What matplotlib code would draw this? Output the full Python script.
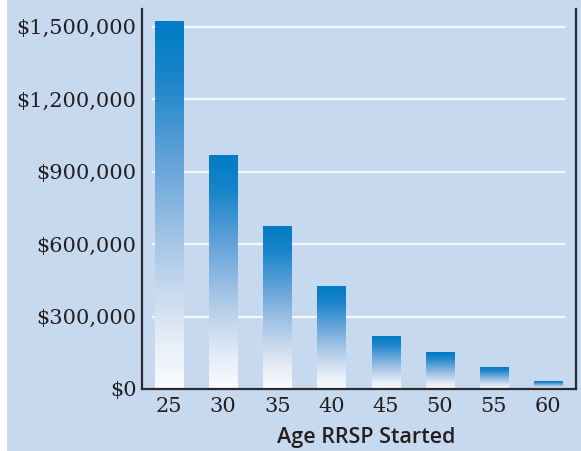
import numpy as np
import matplotlib
matplotlib.use('Agg')
import matplotlib.pyplot as plt
from matplotlib.colors import LinearSegmentedColormap
from matplotlib.patches import Rectangle

ages = [25, 30, 35, 40, 45, 50, 55, 60]
savings = [1520000, 965000, 671000, 426000, 219000, 153000, 87000, 33000]
y_ticks = [0, 300000, 600000, 900000, 1200000, 1500000]

bg = '#c6d9ef'
ink = '#231f20'
bar_cmap = LinearSegmentedColormap.from_list('rrsp', [
    (0.0, '#fbfcfe'), (0.15, '#e2ebf6'), (0.35, '#b3cde9'),
    (0.6, '#6aa6da'), (0.85, '#1984ca'), (1.0, '#007cc4')])

fig = plt.figure(figsize=(5.81, 4.51), dpi=100)
fig.patch.set_facecolor('white')
fig.patches.append(Rectangle((7 / 581, 0), 1, 1, transform=fig.transFigure,
                             facecolor=bg, edgecolor='none', zorder=-10))
ax = fig.add_axes([0.2444, 0.1375, 0.747, 0.8425])
ax.set_facecolor(bg)

xmin, xmax = 22.51, 62.59
ymax = 1573000
width = 2.59

# white grid lines, not quite full width
ax.hlines(y_ticks[1:], 23.43, 61.57, colors='white', linewidth=1.6, alpha=0.85, zorder=1)

grad = np.linspace(0, 1, 256).reshape(-1, 1)
for a, v in zip(ages, savings):
    ax.imshow(grad, cmap=bar_cmap, origin='lower', aspect='auto',
              extent=(a - width / 2, a + width / 2, 0, v), zorder=2, interpolation='bilinear')

ax.set_xlim(xmin, xmax)
ax.set_ylim(0, ymax)
ax.set_xticks(ages)
ax.set_xticklabels([str(a) for a in ages])
ax.set_yticks(y_ticks)
ax.set_yticklabels(['${:,.0f}'.format(t) for t in y_ticks])
ax.tick_params(length=0, colors=ink, labelsize=15)
ax.tick_params(axis='x', pad=6)
ax.tick_params(axis='y', pad=4)
for lab in ax.get_xticklabels() + ax.get_yticklabels():
    lab.set_family('DejaVu Serif')

ax.spines['top'].set_visible(False)
for s in ['left', 'right', 'bottom']:
    ax.spines[s].set_color('#2b2b2b')
    ax.spines[s].set_linewidth(1.6)

ax.set_xlabel('Age RRSP Started', family='Open Sans', fontweight='semibold',
              fontsize=15.5, color=ink, labelpad=8)
ax.xaxis.label.set_x(0.517)

plt.savefig('out.png', dpi=100, facecolor=fig.get_facecolor())
